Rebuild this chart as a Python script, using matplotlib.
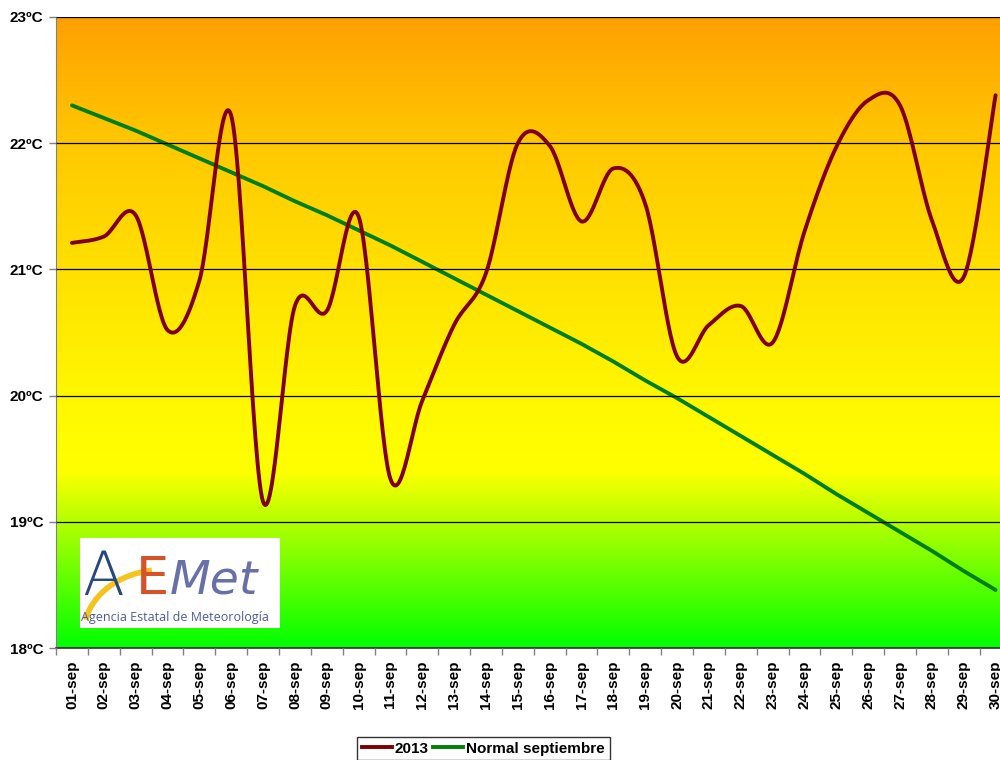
import numpy as np
import matplotlib
matplotlib.use("Agg")
import matplotlib.pyplot as plt
from matplotlib.lines import Line2D
from matplotlib.patches import Arc

plt.rcParams['font.family'] = ['Liberation Sans', 'DejaVu Sans']

# ---------------- data ----------------
days = ["01-sep", "02-sep", "03-sep", "04-sep", "05-sep", "06-sep", "07-sep", "08-sep",
        "09-sep", "10-sep", "11-sep", "12-sep", "13-sep", "14-sep", "15-sep", "16-sep",
        "17-sep", "18-sep", "19-sep", "20-sep", "21-sep", "22-sep", "23-sep", "24-sep",
        "25-sep", "26-sep", "27-sep", "28-sep", "29-sep", "30-sep"]
t2013 = [21.21, 21.26, 21.43, 20.52, 20.91, 22.22, 19.16, 20.71, 20.67, 21.42,
         19.34, 19.96, 20.56, 20.97, 22.00, 21.98, 21.38, 21.80, 21.52, 20.31,
         20.56, 20.71, 20.42, 21.30, 21.97, 22.34, 22.30, 21.39, 20.94, 22.38]
normal = [22.30, 22.20, 22.10, 21.99, 21.88, 21.77, 21.66, 21.54, 21.43, 21.31,
          21.19, 21.06, 20.93, 20.80, 20.67, 20.54, 20.41, 20.27, 20.12, 19.98,
          19.83, 19.68, 19.53, 19.38, 19.22, 19.07, 18.92, 18.77, 18.61, 18.46]
yticks = [18, 19, 20, 21, 22, 23]
ytick_labels = ["18ºC", "19ºC", "20ºC", "21ºC", "22ºC", "23ºC"]
legend_labels = ["2013", "Normal septiembre"]


def smooth(xs, ys, n=30):
    """Excel-like smoothed line (Catmull-Rom Bezier through the points)."""
    P = np.column_stack([xs, ys]).astype(float)
    ext = np.vstack([P[0], P, P[-1]])
    out = []
    t = np.linspace(0, 1, n)[:, None]
    for i in range(len(P) - 1):
        p0, p1, p2, p3 = ext[i], ext[i + 1], ext[i + 2], ext[i + 3]
        b0 = p1
        b1 = p1 + (p2 - p0) / 6.0
        b2 = p2 - (p3 - p1) / 6.0
        b3 = p2
        seg = ((1 - t) ** 3) * b0 + 3 * ((1 - t) ** 2) * t * b1 + 3 * (1 - t) * t ** 2 * b2 + t ** 3 * b3
        out.append(seg if i == 0 else seg[1:])
    out = np.vstack(out)
    return out[:, 0], out[:, 1]


fig = plt.figure(figsize=(10, 7.6), dpi=100)
ax = fig.add_axes([0.056, 1 - 648 / 760, 0.9555, (648 - 17) / 760])

x = np.arange(len(days))
ax.set_xlim(-0.5, len(days) - 0.5)

# gradient background (orange top -> yellow -> green bottom)
stops = [0.0, 0.2, 0.4, 0.6, 0.72, 0.8, 1.0]
rs = [255, 255, 255, 255, 255, 180, 0]
gs = [160, 200, 224, 247, 255, 255, 255]
f = np.linspace(0, 1, 400)
grad = np.zeros((400, 1, 3))
grad[:, 0, 0] = np.interp(f, stops, rs) / 255
grad[:, 0, 1] = np.interp(f, stops, gs) / 255
ax.imshow(grad, extent=[-0.5, len(days) - 0.5, 18, 23], origin='upper', aspect='auto',
          zorder=0, interpolation='bilinear')
ax.set_ylim(18, 23)

# grid
ax.set_yticks(yticks)
ax.set_yticklabels(ytick_labels, fontsize=11, fontweight='bold')
ax.yaxis.grid(True, color='black', linewidth=0.9, zorder=1)
ax.set_axisbelow(False)

# lines
sx, sy = smooth(x, t2013)
ax.plot(sx, sy, color='#800000', linewidth=2.8, zorder=3, solid_capstyle='round')
ax.plot(x, normal, color='#008000', linewidth=2.8, zorder=2, solid_capstyle='round')

# x ticks
ax.set_xticks(x)
ax.set_xticklabels(days, rotation=90, fontsize=11, fontweight='bold')
ax.set_xticks(np.arange(-0.5, len(days), 1.0), minor=True)
ax.tick_params(axis='x', which='major', length=0, pad=9)
ax.tick_params(axis='x', which='minor', length=5, color='#808080', width=1)
ax.tick_params(axis='y', length=5, color='#808080', width=1, pad=4)

for s in ['top', 'right']:
    ax.spines[s].set_visible(False)
ax.spines['left'].set_color('#808080')
ax.spines['bottom'].set_color('#404040')
ax.spines['bottom'].set_linewidth(1.3)

# legend
handles = [Line2D([], [], color='#800000', lw=2.8),
           Line2D([], [], color='#008000', lw=2.8)]
leg = fig.legend(handles, legend_labels, loc='upper center',
                 bbox_to_anchor=(0.4835, 1 - 737 / 760), ncol=2, frameon=True,
                 fancybox=False, edgecolor='black', prop={'weight': 'bold', 'size': 11},
                 handlelength=1.95, handletextpad=0.2, columnspacing=0.3,
                 borderpad=0.3, borderaxespad=0)
leg.get_frame().set_linewidth(1.0)

# logo
lax = fig.add_axes([0.08, 1 - 628 / 760, 0.2, 90 / 760])
lax.set_facecolor('white')
lax.set_xlim(0, 1)
lax.set_ylim(0, 1)
lax.set_xticks([])
lax.set_yticks([])
for s in lax.spines.values():
    s.set_visible(False)
lax.text(0.01, 0.22, "A", color='#27477f', fontsize=44, family='DejaVu Sans',
         fontweight='light', va='bottom', ha='left')
lax.text(0.28, 0.25, "E", color='#d4532a', fontsize=38, family='DejaVu Sans',
         va='bottom', ha='left')
lax.text(0.45, 0.27, "Met", color='#6870a8', fontsize=34, family='DejaVu Sans',
         fontstyle='italic', va='bottom', ha='left')
lax.add_patch(Arc((0.42, -0.05), 0.8, 1.4, theta1=95, theta2=160, color='#f6c21c', lw=4))
lax.text(0.005, 0.04, "Agencia Estatal de Meteorología", color='#4d5b9c', fontsize=9,
         family='Open Sans', va='bottom', ha='left')

fig.savefig("out.png", dpi=100)
